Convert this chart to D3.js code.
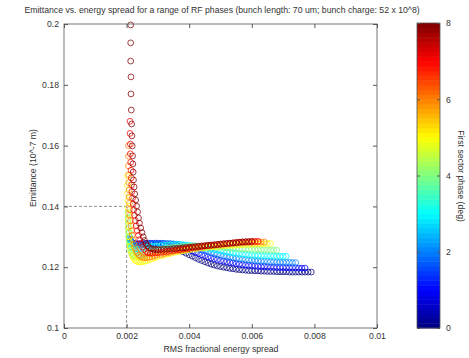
<!DOCTYPE html>
<html>
<head>
<meta charset="utf-8">
<script src="https://cdn.jsdelivr.net/npm/d3@7"></script>
<style>
  body { margin: 0; background: #fff; }
  text { font-family: "Liberation Sans", Arial, sans-serif; fill: #333; }
</style>
</head>
<body>
<svg width="469" height="358"></svg>
<script>
const title = "Emittance vs. energy spread for a range of RF phases  (bunch length: 70 um; bunch charge: 52 x 10^8)"
const xLabel = "RMS fractional energy spread"
const yLabel = "Emittance (10^-7 m)"
const cLabel = "First sector phase (deg)"
const xTicks = [0, 0.002, 0.004, 0.006, 0.008, 0.01]
const yTicks = [0.1, 0.12, 0.14, 0.16, 0.18, 0.2]
const cTicks = [0, 2, 4, 6, 8]
const cutX = 0.002
const cutY = 0.14

// one entry per RF phase (deg), points as [energy spread, emittance]
const phases = [0, 1, 2, 3, 4, 5, 6, 7, 8]

const phase0 = [[0.00212,0.1287],[0.00215,0.1282],[0.00219,0.1279],[0.00224,0.1277],[0.0023,0.1276],[0.00237,0.1276],[0.00244,0.1276],[0.00252,0.1276],[0.0026,0.1276],[0.00268,0.1276],[0.00276,0.1276],[0.00284,0.1276],[0.00292,0.1275],
  [0.003,0.1275],[0.0031,0.1274],[0.0032,0.1273],[0.0033,0.1271],[0.0034,0.1268],[0.0035,0.1265],[0.0036,0.1261],[0.0037,0.1256],[0.0038,0.1251],[0.0039,0.1246],[0.004,0.1241],[0.0041,0.1236],[0.0042,0.1231],[0.0043,0.1226],[0.0044,0.1222],[0.0045,0.1218],[0.0046,0.1214],[0.0047,0.121],[0.0048,0.1207],[0.0049,0.1204],[0.005,0.1202],
  [0.0051,0.12],[0.0052,0.1198],[0.0053,0.1196],[0.0054,0.1195],[0.0055,0.1193],[0.0056,0.1192],[0.0057,0.1191],[0.0058,0.119],[0.0059,0.1189],[0.006,0.1189],[0.0061,0.1188],[0.0062,0.1188],[0.0063,0.1187],[0.0064,0.1187],[0.0065,0.1186],[0.0066,0.1186],[0.0067,0.1186],[0.0068,0.1185],[0.0069,0.1185],[0.007,0.1185],
  [0.0071,0.1185],[0.0072,0.1184],[0.0073,0.1184],[0.0074,0.1184],[0.0075,0.1184],[0.0076,0.1184],[0.0077,0.1184],[0.0078,0.1184],[0.0079,0.1184]]

const phase1 = [[0.00211,0.1292],[0.00213,0.1286],[0.00216,0.1282],[0.0022,0.1279],[0.00225,0.1278],[0.00231,0.1277],[0.00238,0.1277],[0.00245,0.1277],[0.00253,0.1278],[0.00261,0.1278],[0.00269,0.1279],[0.00277,0.1279],[0.00285,0.1279],[0.00293,0.1279],
  [0.003,0.1279],[0.0031,0.1279],[0.0032,0.1278],[0.0033,0.1277],[0.0034,0.1276],[0.0035,0.1274],[0.0036,0.1272],[0.0037,0.1269],[0.0038,0.1265],[0.0039,0.1261],[0.004,0.1257],[0.0041,0.1253],[0.0042,0.1249],[0.0043,0.1245],[0.0044,0.1241],[0.0045,0.1238],[0.0046,0.1234],[0.0047,0.1231],[0.0048,0.1228],[0.0049,0.1225],[0.005,0.1222],
  [0.0051,0.122],[0.0052,0.1218],[0.0053,0.1216],[0.0054,0.1214],[0.0055,0.1212],[0.0056,0.121],[0.0057,0.1209],[0.0058,0.1207],[0.0059,0.1206],[0.006,0.1205],[0.0061,0.1204],[0.0062,0.1203],[0.0063,0.1202],[0.0064,0.1202],[0.0065,0.1201],[0.0066,0.12],[0.0067,0.12],[0.0068,0.1199],[0.0069,0.1199],[0.007,0.1199],
  [0.0071,0.1198],[0.0072,0.1198],[0.0073,0.1198],[0.0074,0.1198],[0.0075,0.1197],[0.0076,0.1197],[0.0077,0.1197]]

const phase2 = [[0.0021,0.1298],[0.00211,0.129],[0.00213,0.1283],[0.00216,0.1278],[0.0022,0.1275],[0.00225,0.1273],[0.00231,0.1272],[0.00237,0.1272],[0.00244,0.1273],[0.00251,0.1274],[0.00259,0.1275],[0.00267,0.1276],[0.00275,0.1277],[0.00283,0.1277],[0.00291,0.1278],[0.00299,0.1278],
  [0.0031,0.1278],[0.0032,0.1278],[0.0033,0.1278],[0.0034,0.1278],[0.0035,0.1277],[0.0036,0.1276],[0.0037,0.1275],[0.0038,0.1273],[0.0039,0.1271],[0.004,0.1269],[0.0041,0.1266],[0.0042,0.1263],[0.0043,0.126],[0.0044,0.1257],[0.0045,0.1254],[0.0046,0.1251],[0.0047,0.1248],[0.0048,0.1245],[0.0049,0.1242],[0.005,0.124],
  [0.0051,0.1237],[0.0052,0.1235],[0.0053,0.1233],[0.0054,0.1231],[0.0055,0.1229],[0.0056,0.1228],[0.0057,0.1226],[0.0058,0.1225],[0.0059,0.1224],[0.006,0.1223],[0.0061,0.1222],[0.0062,0.1221],[0.0063,0.122],[0.0064,0.122],[0.0065,0.1219],[0.0066,0.1218],[0.0067,0.1218],[0.0068,0.1217],[0.0069,0.1217],[0.007,0.1216],
  [0.0071,0.1216],[0.0072,0.1216],[0.0073,0.1215],[0.0074,0.1215]]

const phase3 = [[0.00208,0.1315],[0.00208,0.1302],[0.00209,0.129],[0.0021,0.128],[0.00212,0.1272],[0.00215,0.1266],[0.00218,0.1262],[0.00222,0.126],[0.00227,0.1259],[0.00232,0.1259],[0.00238,0.126],[0.00244,0.1261],[0.00251,0.1262],[0.00258,0.1264],[0.00265,0.1265],[0.00273,0.1267],[0.00281,0.1268],[0.00289,0.1269],[0.00297,0.127],
  [0.0031,0.1271],[0.0032,0.1272],[0.0033,0.1273],[0.0034,0.1273],[0.0035,0.1274],[0.0036,0.1274],[0.0037,0.1274],[0.0038,0.1274],[0.0039,0.1273],[0.004,0.1272],[0.0041,0.1271],[0.0042,0.127],[0.0043,0.1268],[0.0044,0.1266],[0.0045,0.1264],[0.0046,0.1262],[0.0047,0.126],[0.0048,0.1258],[0.0049,0.1256],[0.005,0.1254],
  [0.0051,0.1252],[0.0052,0.125],[0.0053,0.1249],[0.0054,0.1247],[0.0055,0.1246],[0.0056,0.1244],[0.0057,0.1243],[0.0058,0.1242],[0.0059,0.1241],[0.006,0.124],[0.0061,0.1239],[0.0062,0.1239],[0.0063,0.1238],[0.0064,0.1238],[0.0065,0.1237],[0.0066,0.1237],[0.0067,0.1237],[0.0068,0.1236],[0.0069,0.1236],[0.007,0.1236],[0.0071,0.1236]]

const phase4 = [[0.00204,0.138],[0.00204,0.1362],[0.00205,0.1345],[0.00205,0.1329],[0.00206,0.1314],[0.00207,0.13],[0.00208,0.1287],[0.00209,0.1275],[0.00211,0.1264],[0.00213,0.1255],[0.00216,0.1247],[0.00219,0.1241],[0.00223,0.1237],[0.00228,0.1235],[0.00233,0.1234],[0.00239,0.1235],[0.00245,0.1237],[0.00252,0.124],[0.00259,0.1243],[0.00266,0.1246],[0.00274,0.1249],[0.00282,0.1252],[0.0029,0.1255],[0.00298,0.1257],
  [0.0031,0.1259],[0.0032,0.1261],[0.0033,0.1263],[0.0034,0.1264],[0.0035,0.1265],[0.0036,0.1266],[0.0037,0.1267],[0.0038,0.1268],[0.0039,0.1268],[0.004,0.1269],[0.0041,0.1269],[0.0042,0.1269],[0.0043,0.1269],[0.0044,0.1269],[0.0045,0.1268],[0.0046,0.1268],[0.0047,0.1267],[0.0048,0.1267],[0.0049,0.1266],[0.005,0.1265],
  [0.0051,0.1265],[0.0052,0.1264],[0.0053,0.1263],[0.0054,0.1262],[0.0055,0.1262],[0.0056,0.1261],[0.0057,0.126],[0.0058,0.126],[0.0059,0.1259],[0.006,0.1259],[0.0061,0.1258],[0.0062,0.1258],[0.0063,0.1257],[0.0064,0.1257],[0.0065,0.1257],[0.0066,0.1256],[0.0067,0.1256],[0.0068,0.1256]]

const phase5 = [[0.00203,0.15],[0.00203,0.147],[0.00203,0.1443],[0.00204,0.1418],[0.00204,0.1395],[0.00205,0.1374],[0.00205,0.1354],[0.00206,0.1335],[0.00207,0.1317],[0.00208,0.13],[0.00209,0.1284],[0.00211,0.1269],[0.00213,0.1256],[0.00216,0.1245],[0.00219,0.1235],[0.00223,0.1228],[0.00228,0.1222],[0.00233,0.1219],[0.00239,0.1217],[0.00245,0.1217],[0.00252,0.1218],[0.00259,0.122],[0.00266,0.1222],[0.00274,0.1225],[0.00282,0.1228],[0.0029,0.1231],[0.00298,0.1234],
  [0.0031,0.1237],[0.0032,0.124],[0.0033,0.1243],[0.0034,0.1245],[0.0035,0.1248],[0.0036,0.125],[0.0037,0.1252],[0.0038,0.1254],[0.0039,0.1256],[0.004,0.1257],[0.0041,0.1259],[0.0042,0.126],[0.0043,0.1262],[0.0044,0.1263],[0.0045,0.1264],[0.0046,0.1265],[0.0047,0.1266],[0.0048,0.1267],[0.0049,0.1268],[0.005,0.1269],
  [0.0051,0.127],[0.0052,0.1271],[0.0053,0.1272],[0.0054,0.1272],[0.0055,0.1273],[0.0056,0.1274],[0.0057,0.1274],[0.0058,0.1275],[0.0059,0.1275],[0.006,0.1276],[0.0061,0.1276],[0.0062,0.1277],[0.0063,0.1277],[0.0064,0.1277],[0.0065,0.1278],[0.0066,0.1278]]

const phase6 = [[0.00206,0.16],[0.00206,0.1565],[0.00206,0.1533],[0.00207,0.1504],[0.00207,0.1478],[0.00208,0.1454],[0.00208,0.1431],[0.00209,0.141],[0.0021,0.139],[0.00211,0.1371],[0.00212,0.1353],[0.00214,0.1336],[0.00216,0.132],[0.00218,0.1305],[0.0022,0.129],[0.00223,0.1277],[0.00226,0.1265],[0.0023,0.1255],[0.00234,0.1247],[0.00239,0.124],[0.00245,0.1235],[0.00251,0.1232],[0.00258,0.1231],[0.00265,0.1231],[0.00273,0.1233],[0.00281,0.1235],[0.00289,0.1237],[0.00297,0.124],
  [0.0031,0.1242],[0.0032,0.1245],[0.0033,0.1247],[0.0034,0.1249],[0.0035,0.1252],[0.0036,0.1254],[0.0037,0.1256],[0.0038,0.1258],[0.0039,0.1259],[0.004,0.1261],[0.0041,0.1263],[0.0042,0.1264],[0.0043,0.1266],[0.0044,0.1267],[0.0045,0.1269],[0.0046,0.127],[0.0047,0.1271],[0.0048,0.1272],[0.0049,0.1273],[0.005,0.1274],
  [0.0051,0.1275],[0.0052,0.1276],[0.0053,0.1277],[0.0054,0.1278],[0.0055,0.1279],[0.0056,0.128],[0.0057,0.128],[0.0058,0.1281],[0.0059,0.1281],[0.006,0.1282],[0.0061,0.1282],[0.0062,0.1283],[0.0063,0.1283],[0.0064,0.1283]]

const phase7 = [[0.00211,0.168],[0.00211,0.164],[0.00212,0.1605],[0.00212,0.1573],[0.00213,0.1545],[0.00214,0.1519],[0.00215,0.1494],[0.00216,0.1471],[0.00217,0.1449],[0.00219,0.1428],[0.00221,0.1408],[0.00223,0.1389],[0.00225,0.1371],[0.00228,0.1353],[0.00231,0.1336],[0.00234,0.132],[0.00238,0.1305],[0.00242,0.1291],[0.00246,0.1278],[0.00251,0.1267],[0.00256,0.1258],[0.00262,0.1252],[0.00268,0.1248],[0.00275,0.1246],[0.00283,0.1246],[0.00291,0.1247],
  [0.003,0.1248],[0.0031,0.1249],[0.0032,0.1251],[0.0033,0.1252],[0.0034,0.1254],[0.0035,0.1255],[0.0036,0.1257],[0.0037,0.1258],[0.0038,0.126],[0.0039,0.1261],[0.004,0.1263],[0.0041,0.1264],[0.0042,0.1266],[0.0043,0.1267],[0.0044,0.1268],[0.0045,0.127],[0.0046,0.1271],[0.0047,0.1272],[0.0048,0.1273],[0.0049,0.1274],[0.005,0.1276],
  [0.0051,0.1277],[0.0052,0.1278],[0.0053,0.1279],[0.0054,0.128],[0.0055,0.1281],[0.0056,0.1282],[0.0057,0.1283],[0.0058,0.1283],[0.0059,0.1284],[0.006,0.1284],[0.0061,0.1285],[0.0062,0.1285]]

const phase8 = [[0.00213,0.1997],[0.00213,0.1938],[0.00213,0.1878],[0.00214,0.1826],[0.00214,0.177],[0.00215,0.1717],[0.00216,0.1671],[0.00217,0.1632],[0.00218,0.1599],[0.00219,0.1566],[0.0022,0.154],[0.00221,0.1513],[0.00222,0.1487],[0.00224,0.1464],[0.00226,0.1441],[0.00229,0.1421],[0.00232,0.1401],[0.00235,0.1382],[0.00238,0.1362],[0.00241,0.1345],[0.00245,0.1329],[0.00249,0.1314],[0.00253,0.13],[0.00257,0.1288],[0.00262,0.1278],[0.00267,0.127],[0.00273,0.1264],[0.00279,0.1261],[0.00286,0.1259],[0.00293,0.1258],
  [0.003,0.1258],[0.0031,0.1258],[0.0032,0.1259],[0.0033,0.1259],[0.0034,0.126],[0.0035,0.1261],[0.0036,0.1262],[0.0037,0.1263],[0.0038,0.1264],[0.0039,0.1265],[0.004,0.1266],[0.0041,0.1267],[0.0042,0.1268],[0.0043,0.1269],[0.0044,0.127],[0.0045,0.1271],[0.0046,0.1272],[0.0047,0.1273],[0.0048,0.1274],[0.0049,0.1275],[0.005,0.1276],
  [0.0051,0.1277],[0.0052,0.1278],[0.0053,0.1279],[0.0054,0.128],[0.0055,0.1281],[0.0056,0.1282],[0.0057,0.1283],[0.0058,0.1284],[0.0059,0.1284],[0.006,0.1285]]

const curves = [phase0, phase1, phase2, phase3, phase4, phase5, phase6, phase7, phase8]

// matlab style "jet" colormap
function jet(t) {
	const c = v => Math.max(0, Math.min(1, v))
	const r = c(1.5 - Math.abs(4 * t - 3))
	const g = c(1.5 - Math.abs(4 * t - 2))
	const b = c(1.5 - Math.abs(4 * t - 1))
	return d3.rgb(r * 255, g * 255, b * 255).formatHex()
}

let svg = d3.select('svg')
const pLeft = 64, pRight = 377, pTop = 24, pBottom = 328
const fs = 8.7

const x = d3.scaleLinear().domain([0, 0.01]).range([pLeft, pRight])
const y = d3.scaleLinear().domain([0.1, 0.2]).range([pBottom, pTop])
const phaseScale = d3.scaleLinear().domain([0, 8]).range([0, 1])

const fmt = d => String(+d.toFixed(3))

svg.append("text")
	.attr("x", 222).attr("y", 13)
	.attr("text-anchor", "middle")
	.attr("font-size", fs)
	.text(title)

// dashed marker lines
const dash = svg.append("g")
	.attr("stroke", "#777")
	.attr("stroke-width", 0.8)
	.attr("stroke-dasharray", "3,2")
dash.append("line")
	.attr("x1", x(0)).attr("x2", x(cutX))
	.attr("y1", y(cutY)).attr("y2", y(cutY))
dash.append("line")
	.attr("x1", x(cutX)).attr("x2", x(cutX))
	.attr("y1", y(0.1)).attr("y2", y(cutY))

// slight softening, the source is a scaled raster
const defs = svg.append("defs")
defs.append("filter").attr("id", "soft")
	.append("feGaussianBlur").attr("stdDeviation", 0.35)

// circles, phase 0 drawn first
const series = svg.append("g").attr("fill", "none").attr("stroke-width", 1)
	.attr("filter", "url(#soft)")
series.selectAll("g")
	.data(curves)
	.join("g")
	.attr("stroke", (d, i) => jet(phaseScale(phases[i])))
	.attr("stroke-opacity", 0.75)
	.selectAll("circle")
	.data(d => d)
	.join("circle")
	.attr("cx", d => x(d[0]))
	.attr("cy", d => y(d[1]))
	.attr("r", 2.9)

// axes, ticks inward on all four sides
const axisStyle = g => {
	g.select(".domain").remove()
	g.selectAll("line").attr("stroke", "#555")
	g.selectAll("text").attr("font-size", fs).attr("fill", "#444")
}
svg.append("g").attr("transform", `translate(0,${pBottom})`)
	.call(d3.axisBottom(x).tickValues(xTicks).tickSize(-4).tickPadding(5).tickFormat(fmt))
	.call(axisStyle)
svg.append("g").attr("transform", `translate(0,${pTop})`)
	.call(d3.axisTop(x).tickValues(xTicks).tickSize(-4).tickFormat(""))
	.call(axisStyle)
svg.append("g").attr("transform", `translate(${pLeft},0)`)
	.call(d3.axisLeft(y).tickValues(yTicks).tickSize(-4).tickPadding(5).tickFormat(fmt))
	.call(axisStyle)
svg.append("g").attr("transform", `translate(${pRight},0)`)
	.call(d3.axisRight(y).tickValues(yTicks).tickSize(-4).tickFormat(""))
	.call(axisStyle)

svg.append("rect")
	.attr("x", pLeft).attr("y", pTop)
	.attr("width", pRight - pLeft).attr("height", pBottom - pTop)
	.attr("fill", "none").attr("stroke", "#555").attr("stroke-width", 0.8)

svg.append("text")
	.attr("x", 221).attr("y", 352)
	.attr("text-anchor", "middle").attr("font-size", fs)
	.text(xLabel)
svg.append("text")
	.attr("transform", `translate(36,168) rotate(-90)`)
	.attr("text-anchor", "middle").attr("font-size", fs)
	.text(yLabel)

// colorbar, 64 bands spanning phase 0..8
const cbX = 417, cbW = 23
const cy = d3.scaleLinear().domain([0, 8]).range([pBottom, pTop - 1])
const steps = d3.range(64)
svg.append("g")
	.selectAll("rect")
	.data(steps)
	.join("rect")
	.attr("x", cbX)
	.attr("width", cbW)
	.attr("y", i => cy((i + 1) / 8))
	.attr("height", i => cy(i / 8) - cy((i + 1) / 8) + 0.5)
	.attr("fill", i => jet((i + 0.5) / 64))
svg.append("g").attr("transform", `translate(${cbX + cbW},0)`)
	.call(d3.axisRight(cy).tickValues(cTicks).tickSize(-3).tickPadding(6).tickFormat(d3.format("d")))
	.call(axisStyle)
svg.append("g").attr("transform", `translate(${cbX},0)`)
	.call(d3.axisLeft(cy).tickValues(cTicks).tickSize(-3).tickFormat(""))
	.call(axisStyle)
svg.append("rect")
	.attr("x", cbX).attr("y", pTop - 1)
	.attr("width", cbW).attr("height", pBottom - pTop + 1)
	.attr("fill", "none").attr("stroke", "#555").attr("stroke-width", 0.8)
svg.append("text")
	.attr("transform", `translate(458,176) rotate(90)`)
	.attr("text-anchor", "middle").attr("font-size", fs)
	.text(cLabel)
</script>
</body>
</html>
